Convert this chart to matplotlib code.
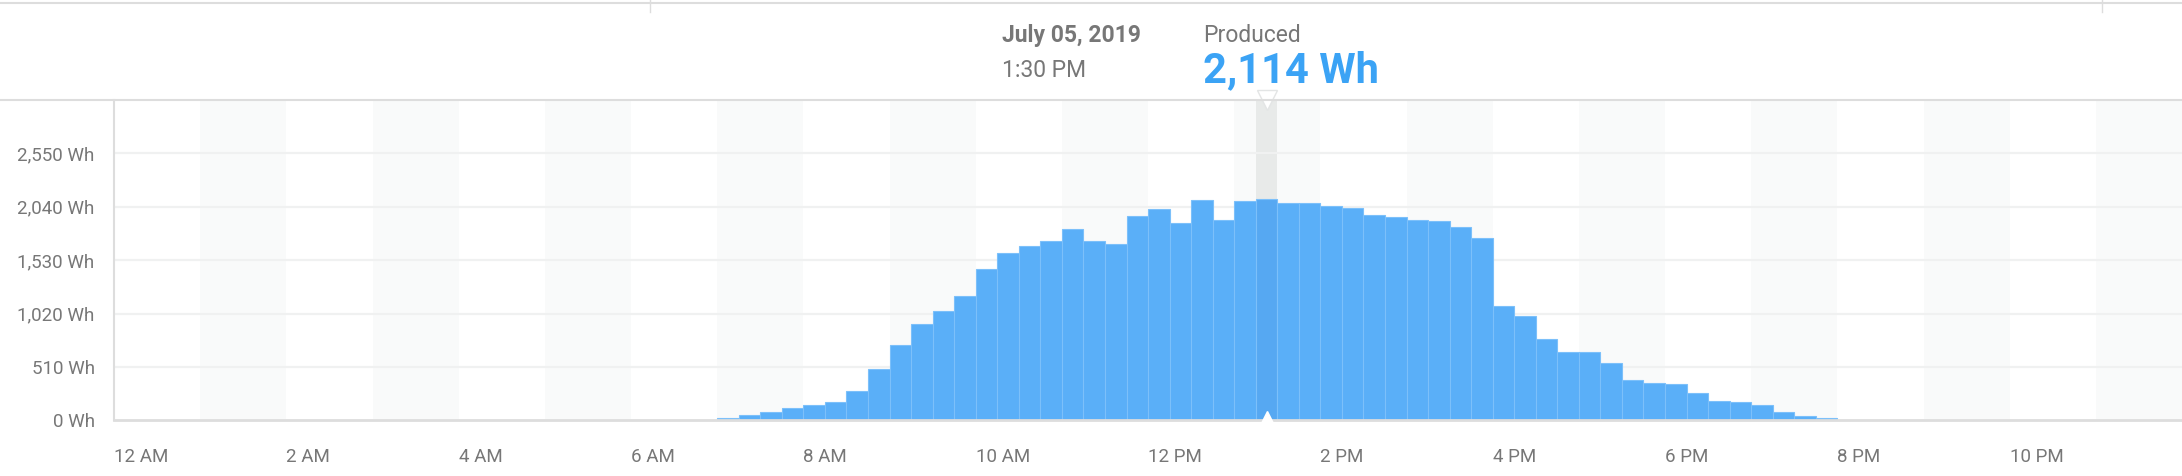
import matplotlib
matplotlib.use("Agg")
import matplotlib.pyplot as plt
import numpy as np

start_hour = 7.0
values = [25, 50, 80, 120, 150, 175, 280, 490, 720, 920, 1040, 1184,
          1446, 1595, 1661, 1717, 1829, 1708, 1680, 1951, 2017, 1886, 2101, 1914,
          2091, 2114, 2073, 2073, 2045, 2030, 1965, 1940, 1910, 1900, 1845, 1740,
          1090, 995, 780, 650, 650, 545, 385, 360, 345, 265, 185, 175,
          150, 80, 40, 20]
yticks = [0, 510, 1020, 1530, 2040, 2550]
ytick_labels = ["0 Wh", "510 Wh", "1,020 Wh", "1,530 Wh", "2,040 Wh", "2,550 Wh"]
xticks = [0, 2, 4, 6, 8, 10, 12, 14, 16, 18, 20, 22]
xtick_labels = ["12 AM", "2 AM", "4 AM", "6 AM", "8 AM", "10 AM", "12 PM", "2 PM", "4 PM", "6 PM", "8 PM", "10 PM"]
sel_index = 25
sel_date = "July 05, 2019"
sel_time = "1:30 PM"
sel_label = "Produced"
sel_value = "2,114 Wh"

plt.rcParams["font.family"] = "Roboto"
fig = plt.figure(figsize=(21.82, 4.76), dpi=100)
ax = fig.add_axes([0.0523, 0.117, 0.9477, 0.672])
ymax = 3055
ax.set_xlim(0, 24)
ax.set_ylim(0, ymax)

for h in range(1, 24, 2):
    ax.axvspan(h, h + 1, color="#f9fafa", zorder=0, lw=0)
w = 0.25
x = start_hour + np.arange(len(values)) * w
sx = x[sel_index]
ax.axvspan(sx, sx + w, color="#e8eae9", zorder=0.5, lw=0)
for yv in yticks[1:]:
    ax.axhline(yv, color="#f0f1f1", lw=1.6, zorder=1)
colors = ["#5aaff8"] * len(values)
colors[sel_index] = "#56a8f2"
ax.bar(x, values, width=w, align="edge", color=colors, edgecolor="#7cc0fa", linewidth=0.8, zorder=2)

ax.plot([sx + w / 2], [0], marker="^", markersize=13, color="white", zorder=5, clip_on=False)
ax.plot([sx + w / 2], [ymax], marker="v", markersize=14, color="white", markeredgecolor="#e3e5e5", zorder=5, clip_on=False)

for s in ["top", "right"]:
    ax.spines[s].set_visible(False)
ax.spines["left"].set_color("#dddddd")
ax.spines["bottom"].set_color("#dddddd")
ax.spines["left"].set_linewidth(1.5)
ax.spines["bottom"].set_linewidth(2)
ax.set_yticks(yticks)
ax.set_yticklabels(ytick_labels, color="#777777", fontsize=13.5)
ax.set_xticks(xticks)
ax.set_xticklabels(xtick_labels, color="#777777", fontsize=13.5, ha="left")
ax.tick_params(axis="x", length=0, pad=20)
ax.tick_params(axis="y", length=0, pad=14)

fig.add_artist(plt.Line2D([0, 1], [0.789, 0.789], color="#dddddd", lw=1.5, transform=fig.transFigure))
fig.add_artist(plt.Line2D([0, 1], [0.993, 0.993], color="#dddddd", lw=1.5, transform=fig.transFigure))
fig.add_artist(plt.Line2D([0.298, 0.298], [0.975, 1.0], color="#dddddd", lw=1, transform=fig.transFigure))
fig.add_artist(plt.Line2D([0.9635, 0.9635], [0.975, 1.0], color="#dddddd", lw=1, transform=fig.transFigure))

fig.text(0.459, 0.925, sel_date, fontsize=16.5, fontweight="bold", color="#777777", va="center")
fig.text(0.459, 0.851, sel_time, fontsize=16.5, color="#777777", va="center")
fig.text(0.5515, 0.925, sel_label, fontsize=16.5, color="#777777", va="center")
fig.text(0.5515, 0.851, sel_value, fontsize=30, fontweight="bold", color="#3ba3f5", va="center")

fig.savefig("out.png", dpi=100, facecolor="white")
